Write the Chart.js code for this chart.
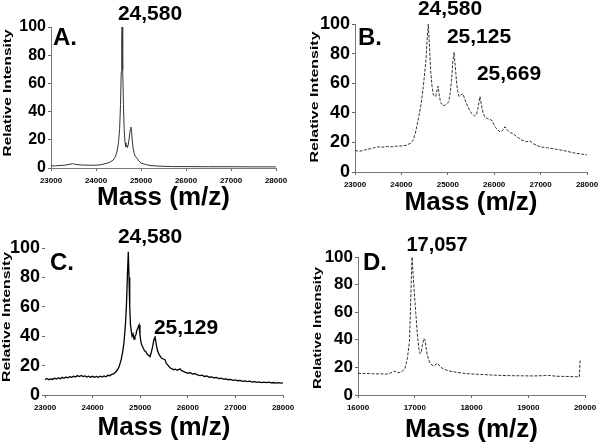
<!DOCTYPE html>
<html><head><meta charset="utf-8">
<script src="https://cdn.jsdelivr.net/npm/chart.js@4.4.0/dist/chart.umd.min.js"></script>
<style>
body{margin:0;background:#fff}
#wrap{position:relative;width:600px;height:445px;overflow:hidden;background:#fff}
canvas{position:absolute}
</style></head><body>
<div id="wrap">
<canvas id="cA" width="300" height="222" style="left:0;top:0"></canvas>
<canvas id="cB" width="300" height="222" style="left:300px;top:0"></canvas>
<canvas id="cC" width="300" height="223" style="left:0;top:222px"></canvas>
<canvas id="cD" width="300" height="223" style="left:300px;top:222px"></canvas>
</div>
<script>
// panel A
const massA=[23000,23100,23200,23300,23400,23480,23550,23650,23800,24000,24100,24200,24300,24380,24430,24470,24500,24525,24545,24560,24572,24580,24588,24598,24610,24625,24645,24665,24685,24700,24720,24740,24760,24775,24790,24805,24825,24850,24880,24910,24950,25000,25100,25200,25400,25700,26000,26500,27000,27500,28000];
const intA=[1.5,1.5,1.8,2,2.5,3,2.6,2.2,2,2,2.3,3,4,5.5,8,12,18,28,45,68,90,100,88,70,45,28,18,15,16,14.5,17,22,27,29,26,20,14,10,8,7,5,3.5,2.5,1.8,1.3,1,1,0.9,0.9,0.8,0.8];

// panel B
const massB=[23000,23100,23200,23300,23400,23500,23600,23700,23800,23900,24000,24100,24200,24250,24300,24360,24420,24470,24530,24560,24580,24605,24630,24660,24690,24740,24765,24790,24815,24845,24890,24935,24980,25020,25050,25080,25110,25135,25160,25185,25210,25240,25280,25325,25380,25435,25500,25580,25620,25650,25694,25720,25760,25800,25860,25946,26030,26125,26180,26233,26290,26350,26405,26500,26600,26700,26770,26850,26990,27150,27346,27500,27700,27850,28000];
const intB=[14.5,14,14.8,15.5,16.3,17,16.8,17.2,17,17.5,17.6,18,19.5,21.5,26,35,45,57,76,92,100,85,69,58,52,51,55,58,52,47,45,45,46,47.5,53,62,75,81,72,62,55,51,52,53,48,44,40,37.8,39,43,51,46,40,37,36,35,30,27,28,30.6,28,26.5,26,23.5,21.5,20.5,21,19,17,16.3,15.3,14.5,13,12.3,11.5];

// panel C
const massC=[23000,23040,23080,23120,23160,23200,23240,23280,23320,23360,23400,23440,23480,23520,23560,23600,23640,23680,23720,23760,23800,23840,23880,23920,23960,24000,24040,24080,24120,24160,24200,24240,24280,24320,24360,24400,24440,24480,24520,24560,24600,24630,24660,24690,24710,24730,24750,24765,24780,24795,24810,24830,24850,24870,24890,24910,24930,24955,24975,24995,25015,25040,25065,25090,25120,25150,25180,25206,25230,25262,25290,25310,25330,25360,25390,25420,25450,25485,25520,25550,25590,25626,25660,25700,25740,25780,25836,25870,25910,25950,26010,26050,26100,26150,26200,26256,26300,26350,26400,26450,26500,26550,26600,26650,26700,26750,26800,26850,26900,26950,27000,27050,27100,27150,27200,27250,27300,27350,27400,27450,27500,27550,27600,27657,27700,27750,27800,27850,27900,27950,28000];
const intC=[10.5,11.2,10.4,11,10.6,11.4,10.8,11.6,11.1,12,11.4,12.2,11.7,12.5,12,12.8,12.3,13.2,12.6,13.3,12.5,13,12.2,12.8,12.1,12.7,12,12.6,12.1,12.8,12.2,13,12.4,13.4,13.1,14,14.4,15.5,17,19.5,24,29,36,48,60,80,97.5,80,60,48,44,40,41.5,38,40,41,44,46,47.6,41,36,33.5,32,30,29.5,27.5,27,26,28.5,33,38,40,36,30.6,28,26.5,25,24.5,24,21.5,20,18.5,18,17.2,17.6,16.8,17.8,16.5,16.1,15.4,14.8,15.2,14.2,14.6,13.6,13.2,13.5,12.6,12.9,12.1,12.3,11.6,11.9,11.2,11.4,10.8,11,10.4,10.6,10,10.3,9.7,9.9,9.3,9.6,9.1,9.4,8.8,9.1,8.6,8.9,8.4,8.7,8.4,8.7,8.2,8.5,8.1,8.4,8.1,8.3];

// panel D
const massD=[16000,16100,16200,16300,16400,16500,16580,16630,16680,16740,16790,16828,16870,16906,16920,16935,16952,16970,16987,17017,17052,17075,17093,17115,17134,17160,17180,17200,17221,17260,17299,17340,17398,17450,17504,17600,17740,17900,18100,18300,18502,18700,18900,19090,19250,19355,19500,19700,19900,19915];
const intD=[15.8,15.5,15.6,15.2,15.4,15.1,16,17.4,16.5,16.2,17.5,19.3,26.6,38.6,55,78,100,88,77,60,41,33,30,31,36,41,40,34,29,24,21.7,21,23,20.5,18.8,17.5,16.4,15.5,15,14.6,14.2,14,13.9,13.8,14,14.2,13.6,13.4,13.1,26];

const yTicks=[0,20,40,60,80,100];
const xTicks25=[23000,24000,25000,26000,27000,28000];
const xTicks17=[16000,17000,18000,19000,20000];

const FONT='"Liberation Sans", Arial, Helvetica, sans-serif';

const panelText={id:'panelText',afterDraw(chart,args,o){
  const ctx=chart.ctx; ctx.save(); ctx.fillStyle='#000';
  ctx.font=`bold 24px ${FONT}`; ctx.textAlign='left'; ctx.textBaseline='alphabetic';
  ctx.fillText(o.letter,o.lx,o.ly);
  ctx.font=`bold ${o.peakSize}px ${FONT}`; ctx.textAlign='center';
  o.peaks.forEach(p=>ctx.fillText(p.t,p.x,p.y));
  // y title is stretched along its length in the original
  ctx.font=`bold 11px ${FONT}`;
  const w=ctx.measureText('Relative Intensity').width;
  ctx.translate(o.tx,o.ty); ctx.rotate(-Math.PI/2); ctx.scale(o.tlen/w,1);
  ctx.textBaseline='middle'; ctx.fillText('Relative Intensity',0,0);
  ctx.restore();
}};

function makeChart(id,mass,inten,xt,p){
  const cv=document.getElementById(id); const W=cv.width,H=cv.height;
  new Chart(cv,{
    type:'line',
    data:{datasets:[{data:mass.map((m,i)=>({x:m,y:inten[i]})),borderColor:p.color,borderWidth:p.lw,borderDash:p.dash,pointRadius:0,tension:0,fill:false,clip:false}]},
    options:{responsive:false,animation:false,events:[],
      layout:{padding:{left:0,top:p.area.t,right:W-p.area.r,bottom:0}},
      plugins:{legend:{display:false},tooltip:{enabled:false},panelText:p.text},
      scales:{
        x:{type:'linear',min:xt[0],max:xt[xt.length-1],
          afterBuildTicks(s){s.ticks=xt.map(v=>({value:v}));},
          ticks:{font:{size:8,weight:'bold',family:FONT},color:'#000',padding:5,maxRotation:0,autoSkip:false,callback:v=>String(v)},
          grid:{drawOnChartArea:false,drawTicks:true,tickLength:3,color:'#666'},
          border:{color:'#777'},
          title:{display:true,text:'Mass (m/z)',color:'#000',font:{size:26,weight:'bold',family:FONT,lineHeight:1},padding:{top:0,bottom:p.tpb}},
          afterFit(s){s.height=H-p.area.b;s.paddingLeft=0;s.paddingRight=0;}},
        y:{min:0,max:100,
          afterBuildTicks(s){s.ticks=yTicks.map(v=>({value:v}));},
          ticks:{font:{size:p.ys,weight:'bold',family:FONT},color:'#000',padding:2},
          grid:{drawOnChartArea:false,drawTicks:true,tickLength:3,color:'#666'},
          border:{display:p.yBorder,color:'#777'},
          afterFit(s){s.width=p.area.l;s.paddingTop=0;s.paddingBottom=0;}}
      }
    },
    plugins:[panelText]
  });
}

makeChart('cA',massA,intA,xTicks25,{area:{l:51,t:27,r:276,b:168},color:'#333',lw:1,dash:[],ys:16,tpb:11.5,yBorder:true,
  text:{letter:'A.',lx:53,ly:45,peakSize:21,peaks:[{t:'24,580',x:150,y:20}],tx:7.5,ty:93,tlen:127}});
makeChart('cB',massB,intB,xTicks25,{area:{l:55,t:24,r:287,b:172},color:'#333',lw:1,dash:[3,1.5],ys:18,tpb:6,yBorder:true,
  text:{letter:'B.',lx:58,ly:45,peakSize:21,peaks:[{t:'24,580',x:150,y:15},{t:'25,125',x:179,y:43},{t:'25,669',x:209,y:80}],tx:14.5,ty:97,tlen:131}});
makeChart('cC',massC,intC,xTicks25,{area:{l:45,t:26,r:283,b:173},color:'#000',lw:1.3,dash:[],ys:18,tpb:4,yBorder:false,
  text:{letter:'C.',lx:50,ly:48,peakSize:21,peaks:[{t:'24,580',x:150,y:21},{t:'25,129',x:186,y:112}],tx:7,ty:95,tlen:130}});
makeChart('cD',massD,intD,xTicks17,{area:{l:58,t:35,r:285,b:173},color:'#333',lw:1,dash:[3,1.5],ys:17,tpb:2,yBorder:true,
  text:{letter:'D.',lx:63,ly:48,peakSize:20,peaks:[{t:'17,057',x:137,y:29}],tx:18,ty:106,tlen:122}});
</script>
</body></html>
